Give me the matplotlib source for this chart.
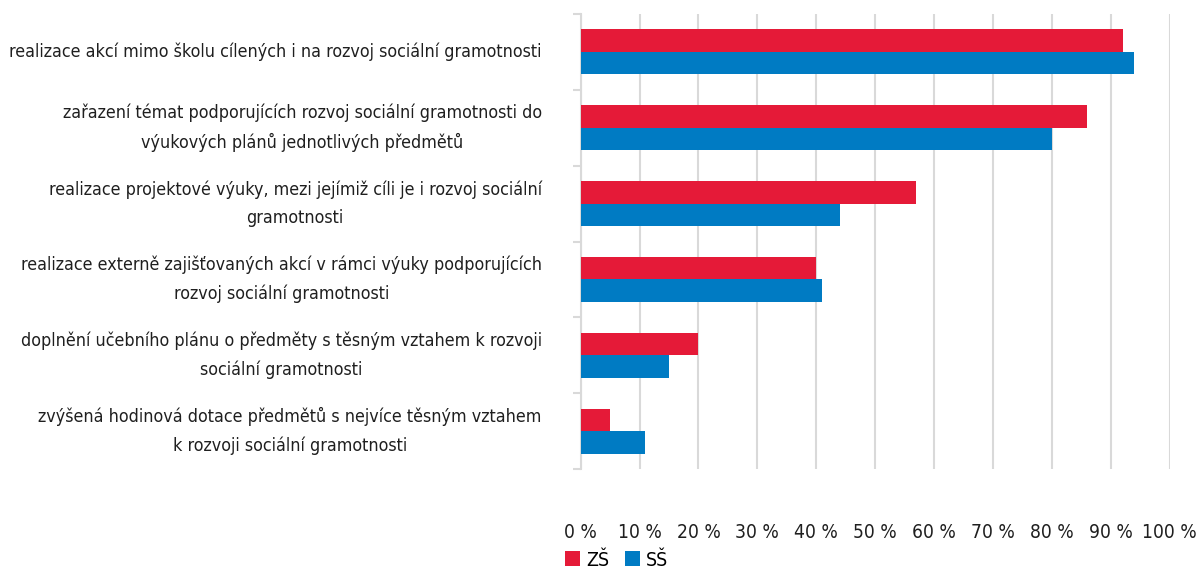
import matplotlib
matplotlib.use("Agg")
import matplotlib.pyplot as plt
import numpy as np
from matplotlib.patches import Patch

plt.rcParams["font.family"] = ["DejaVu Sans"]
plt.rcParams["font.stretch"] = "condensed"

categories = [
    "realizace akcí mimo školu cílených i na rozvoj sociální gramotnosti",
    "zařazení témat podporujících rozvoj sociální gramotnosti do\nvýukových plánů jednotlivých předmětů",
    "realizace projektové výuky, mezi jejímiž cíli je i rozvoj sociální\ngramotnosti",
    "realizace externě zajišťovaných akcí v rámci výuky podporujících\nrozvoj sociální gramotnosti",
    "doplnění učebního plánu o předměty s těsným vztahem k rozvoji\nsociální gramotnosti",
    "zvýšená hodinová dotace předmětů s nejvíce těsným vztahem\nk rozvoji sociální gramotnosti",
]
zs = [92, 86, 57, 40, 20, 5]
ss = [94, 80, 44, 41, 15, 11]
series_names = ["ZŠ", "SŠ"]
ticks = [0, 10, 20, 30, 40, 50, 60, 70, 80, 90, 100]

RED = "#e51a38"
BLUE = "#007bc3"
GRID = "#d9d9d9"
TEXT = "#1f1f1f"

fig = plt.figure(figsize=(11.96, 5.69), dpi=100)
ax = fig.add_axes([0.4855, 0.1757, 0.4925, 0.7997])

y = np.arange(len(categories))
h = 0.296
ax.barh(y - h / 2, zs, height=h, color=RED, zorder=3)
ax.barh(y + h / 2, ss, height=h, color=BLUE, zorder=3)

ax.set_xlim(0, 100)
ax.set_ylim(len(categories) - 0.5, -0.5)
ax.set_xticks(ticks)
ax.set_xticklabels([f"{t} %" for t in ticks], fontsize=13.8, color=TEXT)
ax.tick_params(axis="x", length=0, pad=39)
ax.grid(axis="x", color=GRID, linewidth=1.5, zorder=0)

ax.set_yticks(y)
ax.set_yticklabels(categories, fontsize=12.8, color=TEXT, va="center",
                   multialignment="center", linespacing=1.75)
ax.tick_params(axis="y", which="major", length=0, pad=28)
# short marks between the categories
ax.set_yticks(np.arange(-0.5, len(categories)), minor=True)
ax.tick_params(axis="y", which="minor", length=6, width=1.5, color=GRID)

for side in ["top", "right", "bottom"]:
    ax.spines[side].set_visible(False)
ax.spines["left"].set_color(GRID)
ax.spines["left"].set_linewidth(1.5)

handles = [Patch(facecolor=RED, label=series_names[0]),
           Patch(facecolor=BLUE, label=series_names[1])]
fig.legend(handles=handles, loc="center left",
           bbox_to_anchor=(565 / 1196, 1 - 560 / 569),
           ncol=2, frameon=False, fontsize=14, handlelength=0.77,
           handleheight=0.77, handletextpad=0.31, columnspacing=0.82,
           borderpad=0, borderaxespad=0)

fig.savefig("out.png", dpi=100)
